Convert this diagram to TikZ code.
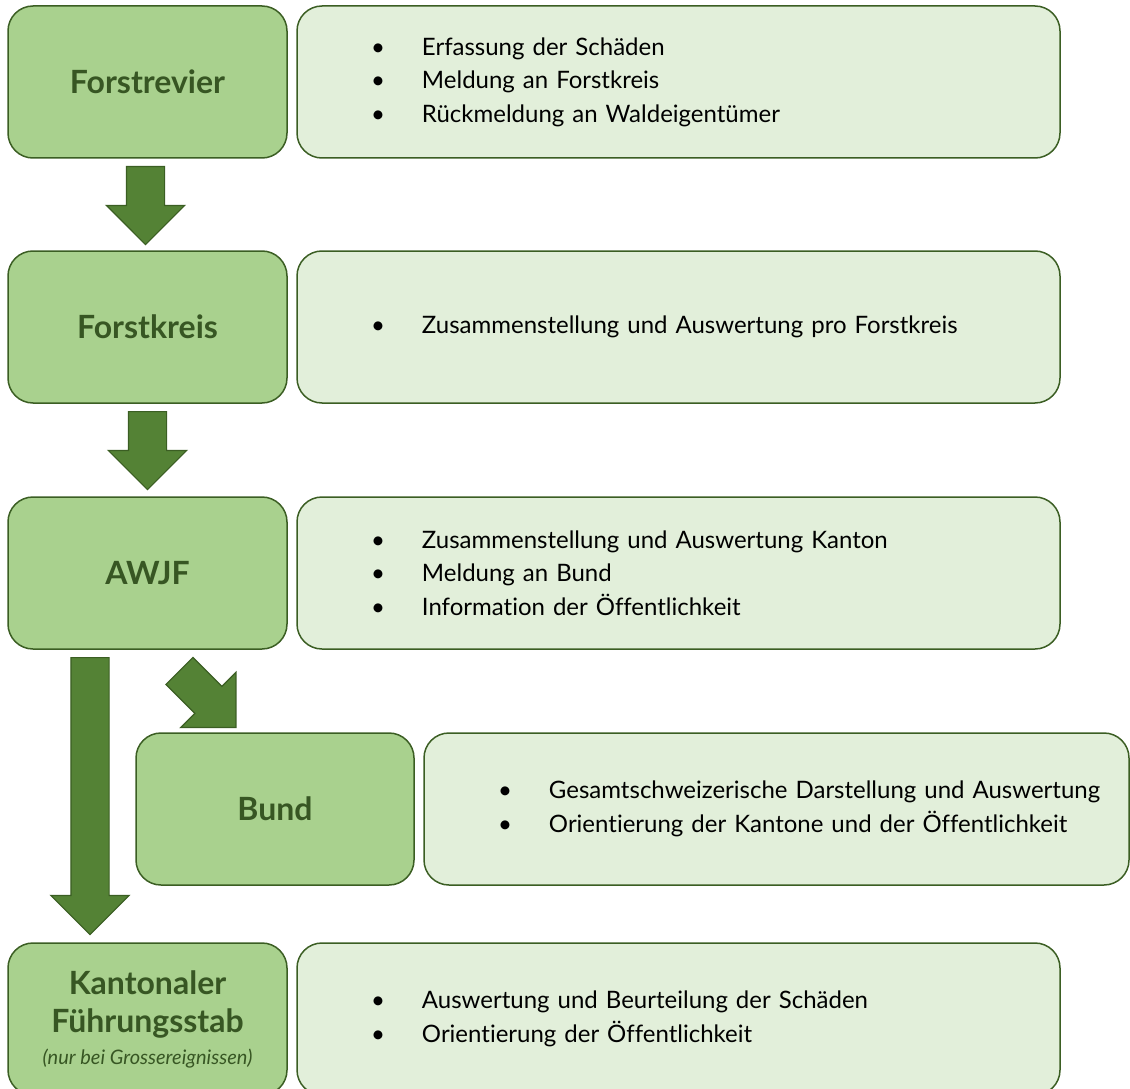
\documentclass[tikz,border=0pt]{standalone}
\usepackage{fontspec}
\setmainfont{Lato}[Ligatures=NoCommon]
\usetikzlibrary{positioning,shapes.arrows}

\definecolor{rim}{HTML}{3B5E23}
\definecolor{titlegreen}{HTML}{375623}
\definecolor{boxgreen}{HTML}{A9D18E}
\definecolor{palegreen}{HTML}{E2EFDA}
\definecolor{arrowgreen}{HTML}{548235}

\newcommand\bul[1]{\hspace*{81pt}\makebox[0pt]{\textbullet}\hspace*{44pt}#1}

\begin{document}
\begin{tikzpicture}[x=1pt, y=-1pt,
    levelbox/.style={draw=rim, fill=boxgreen, line width=1.5pt, rounded corners=25pt,
      minimum width=279pt, minimum height=152pt, outer sep=0pt, align=center,
      text=titlegreen, font=\fontsize{32}{38}\selectfont\bfseries},
    infobox/.style={draw=rim, fill=palegreen, line width=1.5pt, rounded corners=25pt,
      text width=#1, minimum height=152pt, inner xsep=0pt, outer sep=0pt, align=left,
      font=\fontsize{24}{33.5}\selectfont},
    blockarrow/.style={single arrow, draw=rim, fill=arrowgreen, line width=1.2pt,
      minimum height=#1, inner sep=18.5pt, single arrow head extend=20pt,
      single arrow tip angle=90, anchor=tail}]

  \clip (0,0) rectangle (1130,1089);

  % levels
  \node[levelbox] (revier) at (147.5,82) {Forstrevier};
  \node[levelbox, below=93pt of revier] (kreis) {Forstkreis};
  \node[levelbox, below=94pt of kreis] (awjf) {AWJF};
  \node[levelbox, minimum width=278pt] (bund) at (275,809) {Bund};
  \node[levelbox] (stab) at (147.5,1019) {Kantonaler\\F\"uhrungsstab\\[-6pt]
    {\fontsize{20}{24}\selectfont\mdseries\itshape (nur bei Grossereignissen)}};

  % tasks
  \node[infobox=763pt, right=10pt of revier] (reviertxt) {\bul{Erfassung der Sch\"aden}\\
    \bul{Meldung an Forstkreis}\\ \bul{R\"uckmeldung an Waldeigent\"umer}};
  \node[infobox=763pt, right=10pt of kreis] (kreistxt)
    {\bul{Zusammenstellung und Auswertung pro Forstkreis}};
  \node[infobox=763pt, right=10pt of awjf] (awjftxt) {\bul{Zusammenstellung und Auswertung Kanton}\\
    \bul{Meldung an Bund}\\ \bul{Information der \"Offentlichkeit}};
  \node[infobox=705pt, right=10pt of bund] (bundtxt)
    {\bul{Gesamtschweizerische Darstellung und Auswertung}\\
    \bul{Orientierung der Kantone und der \"Offentlichkeit}};
  \node[infobox=763pt, right=10pt of stab] (stabtxt) {\bul{Auswertung und Beurteilung der Sch\"aden}\\
    \bul{Orientierung der \"Offentlichkeit}};

  % flow
  \node[blockarrow=78pt, shape border rotate=270] (a1) at ([xshift=-2pt,yshift=-8pt]revier.south) {};
  \node[blockarrow=78pt, shape border rotate=270] (a2) at ([yshift=-8pt]kreis.south) {};
  \node[blockarrow=277pt, shape border rotate=270] (a3) at ([xshift=-57.5pt,yshift=-8pt]awjf.south) {};
  \node[blockarrow=80pt, rotate=-45] (a4) at ([xshift=31.5pt,yshift=-21.5pt]awjf.south) {};

\end{tikzpicture}
\end{document}
